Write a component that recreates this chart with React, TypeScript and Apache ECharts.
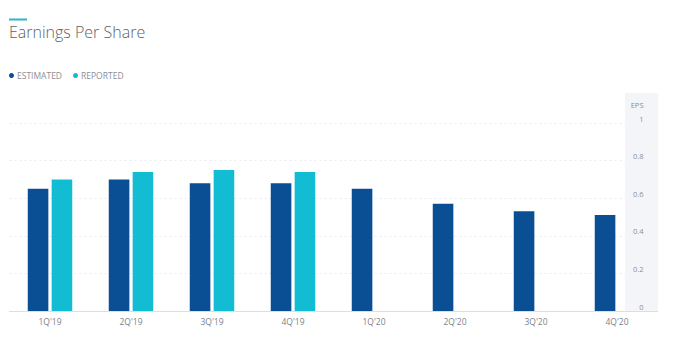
import React, { useEffect, useRef } from "react";
import * as echarts from "echarts";

const categories = ["1Q'19", "2Q'19", "3Q'19", "4Q'19", "1Q'20", "2Q'20", "3Q'20", "4Q'20"];
const estimated = [0.65, 0.7, 0.68, 0.68, 0.65, 0.57, 0.53, 0.51];
const reported: (number | null)[] = [0.7, 0.74, 0.75, 0.74, null, null, null, null];
const yTicks = { min: 0, max: 1, interval: 0.2 };

const FONT = "'Open Sans', 'Noto Sans', sans-serif";

export default function App() {
  const ref = useRef<HTMLDivElement>(null);
  useEffect(() => {
    if (!ref.current) return;
    const chart = echarts.init(ref.current, undefined, { renderer: "svg" });
    chart.setOption({
      animation: false,
      backgroundColor: "#ffffff",
      textStyle: { fontFamily: FONT },
      title: {
        text: "Earnings Per Share",
        left: 9,
        top: 24,
        padding: 0,
        textStyle: { fontFamily: FONT, fontSize: 16, fontWeight: 300, color: "#5b6168" },
      },
      legend: {
        left: 9,
        top: 71,
        padding: 0,
        icon: "circle",
        itemWidth: 5,
        itemHeight: 5,
        itemGap: 11,
        textStyle: { fontFamily: FONT, fontSize: 8.5, color: "#8a8f96", padding: [0, 0, 0, -2] },
        data: ["ESTIMATED", "REPORTED"],
      },
      graphic: [
        { type: "rect", left: 9, top: 18.5, shape: { width: 18, height: 2 }, style: { fill: "#2cb5cc" }, z: 1 },
        { type: "rect", left: 625, top: 93, shape: { width: 33, height: 218 }, style: { fill: "#f4f5f9" }, z: 1 },
      ],
      grid: { left: 9.5, right: 38.5, top: 123, bottom: 40, containLabel: false },
      xAxis: {
        type: "category",
        data: categories,
        z: 3,
        axisLine: { lineStyle: { color: "#d9dee8", width: 1 } },
        axisTick: { show: false },
        axisLabel: { fontFamily: FONT, fontSize: 8.5, color: "#7d828a", margin: 6 },
      },
      yAxis: [
        {
          type: "value",
          position: "left",
          ...yTicks,
          z: 0,
          axisLine: { show: false },
          axisTick: { show: false },
          axisLabel: { show: false },
          splitLine: { lineStyle: { color: "#e9ebf0", type: [2, 3], width: 1 } },
        },
        {
          type: "value",
          position: "right",
          ...yTicks,
          z: 3,
          name: "EPS",
          nameLocation: "end",
          nameGap: 14,
          nameTextStyle: { fontFamily: FONT, fontSize: 7.5, color: "#8a8f96", align: "right", padding: [0, 14, 0, 0] },
          axisLine: { show: false },
          axisTick: { show: false },
          splitLine: { show: false },
          axisLabel: {
            inside: true,
            margin: 14,
            fontFamily: FONT,
            fontSize: 7.5,
            color: "#8a8f96",
            verticalAlign: "bottom",
            lineHeight: 9,
          },
        },
      ],
      series: [
        {
          name: "ESTIMATED",
          type: "bar",
          yAxisIndex: 0,
          data: estimated,
          barWidth: 20.6,
          barGap: "16%",
          itemStyle: { color: "#0a4f94" },
          z: 2,
        },
        {
          name: "REPORTED",
          type: "bar",
          yAxisIndex: 0,
          data: reported,
          barWidth: 20.6,
          barGap: "16%",
          itemStyle: { color: "#12bdd4" },
          z: 2,
        },
      ],
    });
    return () => chart.dispose();
  }, []);
  return <div ref={ref} style={{ width: 696, height: 351, position: "absolute", left: 0, top: 0 }} />;
}
